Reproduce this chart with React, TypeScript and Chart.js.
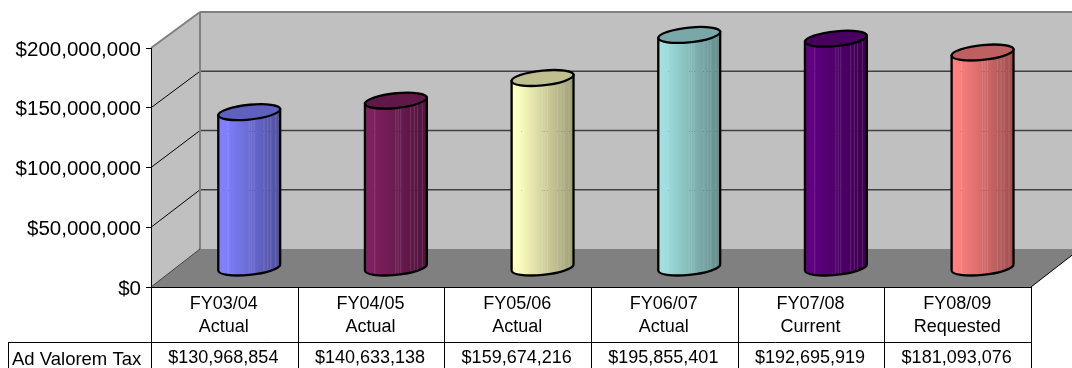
import React, { useEffect, useRef } from "react";
import { Chart, registerables } from "chart.js";

Chart.register(...registerables);

const fiscalYears = ["FY03/04", "FY04/05", "FY05/06", "FY06/07", "FY07/08", "FY08/09"];
const budgetStages = ["Actual", "Actual", "Actual", "Actual", "Current", "Requested"];
const adValoremTax = [130968854, 140633138, 159674216, 195855401, 192695919, 181093076];
const seriesName = "Ad Valorem Tax";
const columnColors = [
  [128, 128, 255],
  [128, 32, 96],
  [255, 255, 192],
  [160, 224, 224],
  [96, 0, 128],
  [255, 128, 128],
];
const axisMax = 200000000;
const axisStep = 50000000;

const FONT = '"Liberation Sans", Arial, sans-serif';
const DEPTH_X = 49;
const BACK_TOP = 12;
const BACK_BOTTOM = 249;
const TABLE_ROW_Y = 342;
const SHEAR = 0.097;
const ELLIPSE_RY = 7.4;
const stripeStops = [0.15, 0.49, 0.53, 0.57, 0.73, 0.79, 0.84, 0.92];

const money = (v: number) => "$" + Math.round(v).toLocaleString("en-US");
const rgb = (c: number[], k = 1) =>
  `rgb(${Math.round(c[0] * k)},${Math.round(c[1] * k)},${Math.round(c[2] * k)})`;

const poly = (ctx: CanvasRenderingContext2D, pts: number[][]) => {
  ctx.beginPath();
  pts.forEach(([x, y], i) => (i ? ctx.lineTo(x, y) : ctx.moveTo(x, y)));
};

const segment = (
  ctx: CanvasRenderingContext2D,
  x0: number,
  y0: number,
  x1: number,
  y1: number,
  color: string,
  width: number
) => {
  ctx.strokeStyle = color;
  ctx.lineWidth = width;
  poly(ctx, [[x0, y0], [x1, y1]]);
  ctx.stroke();
};

// Vertical position of a value on the back wall of the box.
const backYOf = (a: any, py: number) =>
  BACK_BOTTOM - ((a.bottom - py) * (BACK_BOTTOM - BACK_TOP)) / (a.bottom - a.top);

// Walls, floor and gridlines of the box behind the columns.
const boxPlugin = {
  id: "box",
  beforeDatasetsDraw(chart: any) {
    const { ctx, chartArea: a, scales } = chart;
    const y = scales.y;
    const bx = a.left + DEPTH_X;
    const farX = a.right + DEPTH_X;
    ctx.save();
    ctx.fillStyle = "#C0C0C0";
    poly(ctx, [[bx, BACK_TOP], [farX, BACK_TOP], [farX, BACK_BOTTOM], [bx, BACK_BOTTOM]]);
    ctx.fill();
    poly(ctx, [[a.left, a.top], [bx, BACK_TOP], [bx, BACK_BOTTOM], [a.left, a.bottom]]);
    ctx.fill();
    ctx.fillStyle = "#808080";
    poly(ctx, [[a.left, a.bottom], [bx, BACK_BOTTOM], [farX, BACK_BOTTOM], [a.right, a.bottom]]);
    ctx.fill();

    y.ticks.forEach((t: any) => {
      const py = y.getPixelForValue(t.value);
      if (t.value > 0 && t.value < axisMax) {
        const by = backYOf(a, py);
        segment(ctx, a.left, py, bx, by, "#000", 1);
        segment(ctx, bx, by, farX, by, "#404040", 1.4);
      }
    });
    segment(ctx, a.left, a.top, bx, BACK_TOP, "#808080", 2);
    segment(ctx, bx, BACK_TOP, farX, BACK_TOP, "#808080", 2);
    segment(ctx, bx, BACK_TOP, bx, BACK_BOTTOM, "#808080", 2);
    segment(ctx, a.left, a.bottom, bx, BACK_BOTTOM, "#404040", 1);
    segment(ctx, a.right, a.bottom, farX, BACK_BOTTOM, "#000", 1);
    segment(ctx, a.left + 0.5, a.top, a.left + 0.5, a.bottom, "#000", 1);
    ctx.restore();
  },
  beforeDatasetDraw() {
    return false;
  },
  // Columns are read from the bar elements and shown as sheared cylinders.
  afterDatasetsDraw(chart: any) {
    const { ctx, chartArea: a, scales } = chart;
    chart.getDatasetMeta(0).data.forEach((el: any, i: number) => {
      const { x, y, base, width } = el.getProps(["x", "y", "base", "width"], true);
      const cx = x + DEPTH_X / 2 + 0.4;
      const top = (y + backYOf(a, y)) / 2;
      const bottom = (base + backYOf(a, base)) / 2;
      const rx = width / 2;
      const color = columnColors[i];
      const grad = ctx.createLinearGradient(cx - rx, 0, cx + rx, 0);
      grad.addColorStop(0, rgb(color, 1));
      grad.addColorStop(0.1, rgb(color, 1));
      grad.addColorStop(1, rgb(color, 0.62));
      const body = () => {
        ctx.beginPath();
        ctx.ellipse(0, bottom, rx, ELLIPSE_RY, 0, Math.PI, 0, true);
        ctx.lineTo(rx, top);
        ctx.lineTo(-rx, top);
        ctx.closePath();
      };
      ctx.save();
      ctx.transform(1, -SHEAR, 0, 1, cx, 0);
      body();
      ctx.save();
      ctx.setTransform(1, 0, 0, 1, 0, 0);
      ctx.fillStyle = grad;
      ctx.fill();
      ctx.restore();
      ctx.save();
      body();
      ctx.clip();
      ctx.fillStyle = "rgba(255,255,255,0.14)";
      stripeStops.forEach((s) => ctx.fillRect(-rx + s * width, top - 10, 1, bottom - top + ELLIPSE_RY + 20));
      ctx.restore();
      ctx.restore();

      // Back-wall gridlines show faintly through the stripes of each column.
      ctx.save();
      ctx.fillStyle = "rgba(0,0,0,0.18)";
      scales.y.ticks.forEach((t: any) => {
        const by = backYOf(a, scales.y.getPixelForValue(t.value));
        if (t.value > 0 && by > top + ELLIPSE_RY) {
          stripeStops.forEach((s) => ctx.fillRect(Math.round(cx - rx + s * width), Math.round(by), 1, 1));
        }
      });
      ctx.restore();

      ctx.save();
      ctx.transform(1, -SHEAR, 0, 1, cx, 0);
      ctx.strokeStyle = "#000";
      ctx.lineWidth = 2.3;
      body();
      ctx.stroke();
      ctx.beginPath();
      ctx.ellipse(0, top, rx, ELLIPSE_RY, 0, 0, Math.PI * 2);
      ctx.fillStyle = rgb(color, 0.75);
      ctx.fill();
      ctx.stroke();
      ctx.restore();
    });
  },
  // Data table under the category axis.
  afterDraw(chart: any) {
    const { ctx, chartArea: a, scales, height } = chart;
    const x = scales.x;
    const step = (a.right - a.left) / fiscalYears.length;
    ctx.save();
    segment(ctx, a.left, a.bottom + 0.5, a.right, a.bottom + 0.5, "#000", 1);
    segment(ctx, 8.5, TABLE_ROW_Y + 0.5, a.right, TABLE_ROW_Y + 0.5, "#000", 1);
    segment(ctx, 8.5, TABLE_ROW_Y, 8.5, height, "#000", 1);
    for (let i = 0; i <= fiscalYears.length; i++) {
      const px = Math.round(a.left + i * step) + 0.5;
      segment(ctx, px, a.bottom, px, height, "#000", 1);
    }
    ctx.fillStyle = "#000";
    ctx.textBaseline = "middle";
    ctx.textAlign = "left";
    ctx.font = `18.5px ${FONT}`;
    ctx.fillText(seriesName, 12, 360);
    ctx.font = `18px ${FONT}`;
    ctx.textAlign = "center";
    adValoremTax.forEach((v, i) => ctx.fillText(money(v), x.getPixelForValue(i) - 1, 358.5));
    ctx.restore();
  },
};

export default function App() {
  const ref = useRef<HTMLCanvasElement>(null);
  useEffect(() => {
    const chart = new Chart(ref.current!, {
      type: "bar",
      data: {
        labels: fiscalYears.map((f, i) => [f, budgetStages[i]]),
        datasets: [
          {
            label: seriesName,
            data: adValoremTax,
            backgroundColor: columnColors.map((c) => rgb(c)),
            categoryPercentage: 1,
            barPercentage: 0.4222,
          },
        ],
      },
      options: {
        responsive: false,
        animation: false,
        layout: { padding: { top: 48, right: 41, left: 0, bottom: 0 } },
        plugins: { legend: { display: false }, tooltip: { enabled: false }, title: { display: false } },
        scales: {
          x: {
            grid: { display: false },
            border: { display: false },
            ticks: {
              color: "#000",
              font: { family: FONT, size: 18, lineHeight: 1.26 },
              padding: -2,
              labelOffset: -0.5,
              maxRotation: 0,
              autoSkip: false,
            },
            afterFit(s: any) {
              s.height = 81;
            },
          },
          y: {
            min: 0,
            max: axisMax,
            grid: { drawOnChartArea: false, drawTicks: true, tickLength: 5, color: "#000" },
            border: { display: false },
            ticks: {
              stepSize: axisStep,
              color: "#000",
              padding: 5,
              labelOffset: 2,
              font: { family: FONT, size: 20.5 },
              callback: (v: any) => money(Number(v)),
            },
            afterFit(s: any) {
              s.width = 151;
            },
          },
        },
      },
      plugins: [boxPlugin],
    } as any);
    return () => chart.destroy();
  }, []);
  return (
    <div style={{ position: "fixed", left: 0, top: 0, width: 1072, height: 368, background: "#fff" }}>
      <canvas ref={ref} width={1072} height={368} style={{ display: "block" }} />
    </div>
  );
}
